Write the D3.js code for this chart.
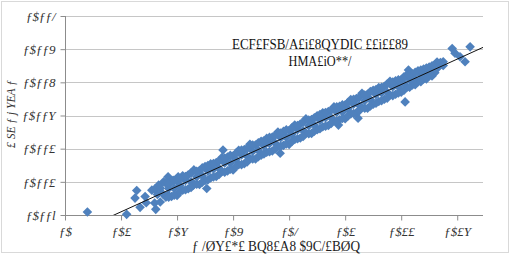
<!DOCTYPE html>
<html><head><meta charset="utf-8">
<script src="https://cdn.jsdelivr.net/npm/d3@7"></script>
<style>body{margin:0;background:#fff}svg{display:block}</style>
</head><body>
<script>
// ---- data ----
const xTickValues = [0,1,2,3,4,5,6,7];
const xTickLabels = ["ƒ$","ƒ$£","ƒ$Y","ƒ$9","ƒ$/","ƒ$£","ƒ$££","ƒ$£Y"];
const yTickValues = [0,1,2,3,4,5,6];
const yTickLabels = ["ƒ$ƒƒl","ƒ$ƒƒ£","ƒ$ƒƒ£","ƒ$ƒƒY","ƒ$ƒƒ8","ƒ$ƒƒ9","ƒ$ƒƒ/"];
const titleLines = ["ECF£FSB/A£i£8QYDIC ££i££89","HMA£iO**/"];
const xTitle = "ƒ /ØY£*£ BQ8£A8 $9C/£BØQ";
const yTitle = "£ SE ƒ j YEA ƒ";
const trendSlope = 0.7675;
const trendIntercept = -0.672;

const xs = [
0.40,1.10,1.28,1.25,1.34,1.45,1.43,1.55,1.62,1.67,1.76,1.84,1.84,1.93,2.02,2.53,2.29,2.82,3.84,4.88,5.23,6.07,6.13,6.64,6.75,6.91,6.96,7.05,7.14,7.23,
1.6,1.65,1.6, 1.7,1.75,1.7, 1.8,1.85,1.8, 1.9,1.95,1.9, 2.0,2.05,2.0, 2.1,2.15,2.1, 2.2,2.25,2.2, 2.3,2.35,2.3, 2.4,2.45,2.4, 2.5,2.55,2.5,
2.6,2.65,2.6, 2.7,2.75,2.7, 2.8,2.85,2.8, 2.9,2.95,2.9, 3.0,3.05,3.0, 3.1,3.15,3.1, 3.2,3.25,3.2, 3.3,3.35,3.3, 3.4,3.45,3.4, 3.5,3.55,3.5,
3.6,3.65,3.6, 3.7,3.75,3.7, 3.8,3.85,3.8, 3.9,3.95,3.9, 4.0,4.05,4.0, 4.1,4.15,4.1, 4.2,4.25,4.2, 4.3,4.35,4.3, 4.4,4.45,4.4, 4.5,4.55,4.5,
4.6,4.65,4.6, 4.7,4.75,4.7, 4.8,4.85,4.8, 4.9,4.95,4.9, 5.0,5.05,5.0, 5.1,5.15,5.1, 5.2,5.25,5.2, 5.3,5.35,5.3, 5.4,5.45,5.4, 5.5,5.55,5.5,
5.6,5.65,5.6, 5.7,5.75,5.7, 5.8,5.85,5.8, 5.9,5.95,5.9, 6.0,6.05,6.0, 6.1,6.15,6.1, 6.2,6.25,6.2, 6.3,6.35,6.3, 6.4,6.45,6.4, 6.5,6.55,6.5,
6.6,6.65,6.6, 6.7,6.75,
1.85,1.85, 1.95,1.95, 2.05,2.05, 2.15,2.15, 2.25,2.25, 2.35,2.35, 2.45,2.45, 2.55,2.55, 2.65,2.65, 2.75,2.75,
2.85,2.85, 2.95,2.95, 3.05,3.05, 3.15,3.15, 3.25,3.25, 3.35,3.35, 3.45,3.45, 3.55,3.55, 3.65,3.65, 3.75,3.75,
3.85,3.85, 3.95,3.95, 4.05,4.05, 4.15,4.15, 4.25,4.25, 4.35,4.35, 4.45,4.45, 4.55,4.55, 4.65,4.65, 4.75,4.75,
4.85,4.85, 4.95,4.95, 5.05,5.05, 5.15,5.15, 5.25,5.25, 5.35,5.35, 5.45,5.45, 5.55,5.55, 5.65,5.65, 5.75,5.75,
5.85,5.85, 5.95,5.95, 6.05,6.05, 6.15,6.15, 6.25,6.25, 6.35,6.35, 6.45,6.45, 6.55,6.55
];
const ys = [
0.09,0.02,0.74,0.51,0.23,0.37,0.56,0.75,0.17,0.90,1.00,0.60,1.15,1.05,1.15,0.80,0.90,1.96,1.86,2.71,2.92,3.41,4.37,4.61,4.62,5.02,4.88,4.77,4.62,5.07,
0.78,0.62,0.36, 0.81,0.63,0.39, 0.96,0.80,0.54, 0.99,0.80,0.56, 1.01,0.90,0.59, 1.18,1.04,0.75, 1.21,1.00,0.79, 1.36,1.15,0.93, 1.34,1.18,0.92, 1.46,1.33,1.04,
1.54,1.39,1.12, 1.58,1.40,1.16, 1.73,1.57,1.31, 1.75,1.57,1.33, 1.78,1.67,1.36, 1.95,1.81,1.52, 1.97,1.77,1.55, 2.13,1.92,1.70, 2.11,1.95,1.69, 2.22,2.09,1.80,
2.31,2.16,1.89, 2.35,2.17,1.93, 2.50,2.33,2.08, 2.52,2.34,2.10, 2.55,2.44,2.13, 2.71,2.57,2.28, 2.74,2.54,2.32, 2.90,2.69,2.47, 2.88,2.71,2.46, 2.99,2.86,2.57,
3.08,2.93,2.66, 3.12,2.93,2.70, 3.26,3.10,2.85, 3.28,3.11,2.87, 3.32,3.20,2.90, 3.48,3.34,3.05, 3.51,3.31,3.09, 3.67,3.45,3.24, 3.64,3.48,3.22, 3.76,3.63,3.34,
3.84,3.69,3.42, 3.88,3.70,3.49, 4.03,3.87,3.62, 4.05,3.87,3.64, 4.08,3.97,3.70, 4.22,4.09,3.85, 4.25,4.10,3.92, 4.35,4.22,4.02, 4.40,4.26,4.10, 4.46,4.39,4.20,
4.53,4.43,4.29, 4.60,4.51,
0.94,0.54, 1.04,0.60, 1.10,0.70, 1.16,0.76, 1.27,0.83, 1.32,0.93, 1.42,0.99, 1.49,1.06, 1.55,1.15, 1.63,1.22,
1.72,1.29, 1.80,1.38, 1.86,1.46, 1.96,1.52, 2.01,1.60, 2.11,1.69, 2.18,1.76, 2.24,1.84, 2.34,1.91, 2.40,1.99,
2.47,2.07, 2.57,2.14, 2.63,2.22, 2.70,2.30, 2.80,2.37, 2.86,2.45, 2.93,2.53, 3.03,2.60, 3.09,2.68, 3.16,2.76,
3.26,2.83, 3.32,2.91, 3.39,2.99, 3.49,3.06, 3.55,3.14, 3.62,3.22, 3.72,3.29, 3.78,3.37, 3.85,3.45, 3.95,3.52,
4.01,3.60, 4.08,3.68, 4.17,3.76, 4.22,3.85, 4.30,3.93, 4.37,4.02, 4.43,4.10, 4.50,4.19
];

// ---- layout ----
const W = 513, H = 255;
const svg = d3.select("body").append("svg").attr("width", W).attr("height", H);
svg.append("rect").attr("x",1.5).attr("y",1.5).attr("width",507).attr("height",251)
  .attr("fill","#fff").attr("stroke","#d9d9d9");

const x = d3.scaleLinear().domain([0, 7.46]).range([65, 483]);
const y = d3.scaleLinear().domain([0, 6]).range([215, 16]);

// gridlines
svg.append("g").selectAll("line").data(yTickValues.slice(1)).join("line")
  .attr("x1", 65).attr("x2", 483)
  .attr("y1", d => Math.round(y(d))+0.5).attr("y2", d => Math.round(y(d))+0.5)
  .attr("stroke", "#c6c6c6").attr("stroke-width", 1);

const font = "'Liberation Serif', 'DejaVu Serif', serif";

// axes
const xAxis = d3.axisBottom(x).tickValues(xTickValues).tickSize(5)
  .tickFormat((d,i) => xTickLabels[i]);
const gx = svg.append("g").attr("transform","translate(0,215.5)").call(xAxis);
gx.select(".domain").attr("stroke","#8c8c8c").attr("d","M65,0H483");
gx.selectAll(".tick line").attr("stroke","#8c8c8c");
gx.selectAll(".tick text").attr("font-family",font).attr("font-size",13).attr("font-style","italic")
  .attr("fill","#333").attr("dy","0.95em");

const yAxis = d3.axisLeft(y).tickValues(yTickValues).tickSize(5)
  .tickFormat((d,i) => yTickLabels[i]);
const gy = svg.append("g").attr("transform","translate(65.5,0)").call(yAxis);
gy.select(".domain").attr("stroke","#8c8c8c").attr("d","M0,16V215");
gy.selectAll(".tick line").attr("stroke","#8c8c8c");
gy.selectAll(".tick text").attr("font-family",font).attr("font-size",13).attr("font-style","italic")
  .attr("fill","#333").attr("x",-10);

// points
const pts = xs.map((v,i) => [v, ys[i]]);
const r = 4.8;
svg.append("g").selectAll("path").data(pts).join("path")
  .attr("d", d => `M${x(d[0])},${y(d[1])-r}L${x(d[0])+r},${y(d[1])}L${x(d[0])},${y(d[1])+r}L${x(d[0])-r},${y(d[1])}Z`)
  .attr("fill","#4f81bd");

// trend line clipped to plot area
svg.append("clipPath").attr("id","plot").append("rect")
  .attr("x",65).attr("y",16).attr("width",418).attr("height",199);
const tx0 = d3.min(xs), tx1 = 7.46;
svg.append("line").attr("clip-path","url(#plot)")
  .attr("x1", x(tx0)).attr("y1", y(trendSlope*tx0+trendIntercept))
  .attr("x2", x(tx1)).attr("y2", y(trendSlope*tx1+trendIntercept))
  .attr("stroke","#111").attr("stroke-width",1);

// title (equation label)
svg.append("text").attr("x",320).attr("y",49).attr("text-anchor","middle")
  .attr("font-family",font).attr("font-size",14.5).attr("fill","#111")
  .attr("textLength",176).attr("lengthAdjust","spacingAndGlyphs").text(titleLines[0]);
svg.append("text").attr("x",320).attr("y",66).attr("text-anchor","middle")
  .attr("font-family",font).attr("font-size",14.5).attr("fill","#111")
  .attr("textLength",63).attr("lengthAdjust","spacingAndGlyphs").text(titleLines[1]);

// axis titles
svg.append("text").attr("x",276).attr("y",251).attr("text-anchor","middle")
  .attr("font-family",font).attr("font-size",14).attr("fill","#222")
  .attr("textLength",168).attr("lengthAdjust","spacingAndGlyphs").text(xTitle);
svg.append("text").attr("transform","translate(15,114) rotate(-90)").attr("text-anchor","middle")
  .attr("font-family",font).attr("font-size",13).attr("font-style","italic").attr("fill","#333")
  .attr("textLength",68).attr("lengthAdjust","spacingAndGlyphs").text(yTitle);
</script>
</body></html>
